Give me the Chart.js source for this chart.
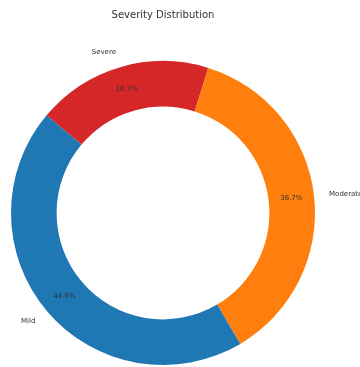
<!DOCTYPE html>
<html>
<head>
<meta charset="utf-8">
<script src="https://cdn.jsdelivr.net/npm/chart.js@4/dist/chart.umd.min.js"></script>
<style>
    html, body { margin: 0; padding: 0; background: #fff; }
    #wrap { width: 360px; height: 367px; }
</style>
</head>
<body>
<div id="wrap"><canvas id="severityChart" width="360" height="367"></canvas></div>
<script>
// Severity shares (percent), drawn clockwise starting at Severe
const severityLabels = ['Severe', 'Moderate', 'Mild'];
const severityValues = [18.7, 36.7, 44.6];
const severityColors = ['#d62728', '#ff7f0e', '#1f77b4'];

const textFont = "'DejaVu Sans', sans-serif";

// Labels outside the ring and percentages inside each wedge
const sliceText = {
    id: 'sliceText',
    afterDatasetsDraw(chart) {
        const ctx = chart.ctx;
        const meta = chart.getDatasetMeta(0);
        const total = severityValues.reduce((s, v) => s + v, 0);
        ctx.save();
        ctx.font = '7px ' + textFont;
        ctx.fillStyle = '#333';
        ctx.textBaseline = 'middle';
        meta.data.forEach((arc, i) => {
            const { x, y, startAngle, endAngle, outerRadius } = arc.getProps(['x', 'y', 'startAngle', 'endAngle', 'outerRadius'], true);
            const mid = (startAngle + endAngle) / 2;
            const cos = Math.cos(mid), sin = Math.sin(mid);

            // category name at 1.1 radius
            const lx = x + cos * outerRadius * 1.1;
            const ly = y + sin * outerRadius * 1.1;
            ctx.textAlign = cos < 0 ? 'right' : 'left';
            ctx.fillText(severityLabels[i], lx, ly);

            // percentage at 0.85 radius
            const px = x + cos * outerRadius * 0.85;
            const py = y + sin * outerRadius * 0.85;
            ctx.textAlign = 'center';
            ctx.fillText((severityValues[i] / total * 100).toFixed(1) + '%', px, py);
        });
        ctx.restore();
    }
};

new Chart(document.getElementById('severityChart'), {
    type: 'doughnut',
    data: {
        labels: severityLabels,
        datasets: [{
            data: severityValues,
            backgroundColor: severityColors,
            borderWidth: 0,
            hoverOffset: 0
        }]
    },
    options: {
        responsive: false,
        animation: false,
        rotation: -50,
        cutout: '70%',
        layout: {
            padding: { left: 11, right: 45, top: 0, bottom: 2 }
        },
        plugins: {
            legend: { display: false },
            tooltip: { enabled: false },
            title: {
                display: true,
                text: 'Severity Distribution',
                color: '#333',
                font: { family: textFont, size: 10, weight: 'normal' },
                padding: { top: 9, bottom: 40 }
            }
        }
    },
    plugins: [sliceText]
});
</script>
</body>
</html>
